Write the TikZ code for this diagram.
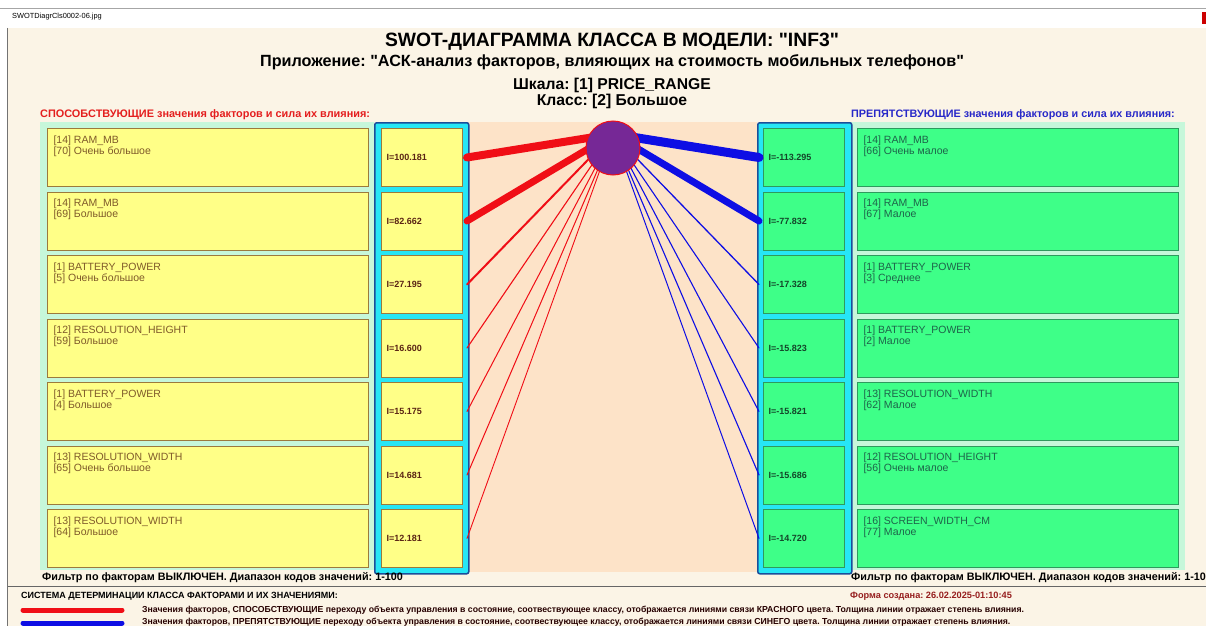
\documentclass[tikz,border=0pt]{standalone}
\usepackage{fontspec}
\setmainfont{Liberation Sans}[Ligatures=TeXOff]
\usetikzlibrary{positioning}
\frenchspacing

\definecolor{beige}{RGB}{251,244,230}
\definecolor{mint}{RGB}{198,247,218}
\definecolor{peach}{RGB}{253,227,200}
\definecolor{colfill}{RGB}{38,230,245}
\definecolor{coledge}{RGB}{26,78,154}
\definecolor{ybox}{RGB}{255,255,135}
\definecolor{yedge}{RGB}{156,122,60}
\definecolor{gbox}{RGB}{62,255,136}
\definecolor{gedge}{RGB}{46,154,94}
\definecolor{txtL}{RGB}{127,90,42}
\definecolor{txtR}{RGB}{30,100,74}
\definecolor{valL}{RGB}{90,36,20}
\definecolor{valR}{RGB}{20,70,42}
\definecolor{plus}{RGB}{240,14,22}
\definecolor{minus}{RGB}{14,14,228}
\definecolor{purp}{RGB}{118,40,150}
\definecolor{hdrred}{RGB}{228,30,30}
\definecolor{hdrblue}{RGB}{40,40,200}
\definecolor{datered}{RGB}{150,30,30}

% factor text, two lines at the top of the box
\newcommand\ftext[2]{\parbox[t][44pt][t]{309pt}{#1\par#2}}

\begin{document}
\begin{tikzpicture}[x=1pt, y=-1pt,
  factorL/.style={rectangle, draw=yedge, fill=ybox, line width=1pt, anchor=north west, inner xsep=6pt, inner ysep=7pt, minimum width=321pt, minimum height=58pt, text=txtL, font=\fontsize{10.5}{11}\selectfont},
  factorR/.style={factorL, draw=gedge, fill=gbox, text=txtR},
  valueL/.style={rectangle, draw=yedge, fill=ybox, line width=1pt, anchor=north west, inner xsep=5pt, inner ysep=0pt, text width=71pt, align=left, minimum height=58pt, text=valL, font=\fontsize{9}{10}\selectfont\bfseries},
  valueR/.style={valueL, draw=gedge, fill=gbox, text=valR},
  column/.style={rectangle, draw=coledge, fill=colfill, line width=1.5pt, rounded corners=2pt, anchor=north west, inner sep=0pt, minimum width=94pt, minimum height=451pt},
  plusln/.style={draw=plus, line cap=round},
  minusln/.style={draw=minus, line cap=round},
  filtertxt/.style={anchor=west, inner sep=0pt, font=\fontsize{10.8}{12}\selectfont\bfseries},
  legtxt/.style={anchor=west, inner sep=0pt, text=black!85!red, font=\fontsize{8.7}{10}\selectfont\bfseries}
]
% backgrounds
\useasboundingbox (0,0) rectangle (1206,626);
\fill[white] (0,0) rectangle (1206,626);
\fill[beige] (8,28) rectangle (1206,626);
\draw[black!35] (0,8.5) -- (1206,8.5);
\draw[black!55] (7.5,28) -- (7.5,626);
\fill[red!80!black] (1202,12) rectangle (1206,24);
\node[anchor=west, inner sep=0pt, font=\fontsize{7.4}{8}\selectfont] (fname) at (12,17) {SWOTDiagrCls0002-06.jpg};

% titles
\node[font=\fontsize{19.3}{22}\selectfont\bfseries, inner sep=0pt] (title) at (612,42) {SWOT-ДИАГРАММА КЛАССА В МОДЕЛИ: "INF3"};
\node[font=\fontsize{16.2}{18}\selectfont\bfseries, inner sep=0pt] (subtitle) at (612,62) {Приложение: "АСК-анализ факторов, влияющих на стоимость мобильных телефонов"};
\node[font=\fontsize{15.7}{17}\selectfont\bfseries, inner sep=0pt] (scale) at (612,85) {Шкала: [1] PRICE\_RANGE};
\node[font=\fontsize{15.7}{17}\selectfont\bfseries, inner sep=0pt] (klass) at (612,101) {Класс: [2] Большое};

\node[anchor=west, inner sep=0pt, text=hdrred, font=\fontsize{10.9}{12}\selectfont\bfseries] (hdrPlus) at (40,115) {СПОСОБСТВУЮЩИЕ значения факторов и сила их влияния:};
\node[anchor=west, inner sep=0pt, text=hdrblue, font=\fontsize{10.8}{12}\selectfont\bfseries] (hdrMinus) at (851,115) {ПРЕПЯТСТВУЮЩИЕ значения факторов и сила их влияния:};

% panels
\fill[mint] (40,122) rectangle (374,570);
\fill[mint] (850,122) rectangle (1185,570);
\fill[peach] (468,122) rectangle (757,572);
\node[column] (colL) at (374,122) {};
\node[column] (colR) at (757,122) {};

% left side
\node[factorL] (fL1) at (47,128) {\ftext{[14] RAM\_MB}{[70] Очень большое}};
\node[factorL] (fL2) at (47,191.5) {\ftext{[14] RAM\_MB}{[69] Большое}};
\node[factorL] (fL3) at (47,255) {\ftext{[1] BATTERY\_POWER}{[5] Очень большое}};
\node[factorL] (fL4) at (47,318.5) {\ftext{[12] RESOLUTION\_HEIGHT}{[59] Большое}};
\node[factorL] (fL5) at (47,382) {\ftext{[1] BATTERY\_POWER}{[4] Большое}};
\node[factorL] (fL6) at (47,445.5) {\ftext{[13] RESOLUTION\_WIDTH}{[65] Очень большое}};
\node[factorL] (fL7) at (47,509) {\ftext{[13] RESOLUTION\_WIDTH}{[64] Большое}};

\node[valueL] (iL1) at (381,128) {I=100.181};
\node[valueL] (iL2) at (381,191.5) {I=82.662};
\node[valueL] (iL3) at (381,255) {I=27.195};
\node[valueL] (iL4) at (381,318.5) {I=16.600};
\node[valueL] (iL5) at (381,382) {I=15.175};
\node[valueL] (iL6) at (381,445.5) {I=14.681};
\node[valueL] (iL7) at (381,509) {I=12.181};

% right side
\node[valueR] (iR1) at (763,128) {I=-113.295};
\node[valueR] (iR2) at (763,191.5) {I=-77.832};
\node[valueR] (iR3) at (763,255) {I=-17.328};
\node[valueR] (iR4) at (763,318.5) {I=-15.823};
\node[valueR] (iR5) at (763,382) {I=-15.821};
\node[valueR] (iR6) at (763,445.5) {I=-15.686};
\node[valueR] (iR7) at (763,509) {I=-14.720};

\node[factorR] (fR1) at (857,128) {\ftext{[14] RAM\_MB}{[66] Очень малое}};
\node[factorR] (fR2) at (857,191.5) {\ftext{[14] RAM\_MB}{[67] Малое}};
\node[factorR] (fR3) at (857,255) {\ftext{[1] BATTERY\_POWER}{[3] Среднее}};
\node[factorR] (fR4) at (857,318.5) {\ftext{[1] BATTERY\_POWER}{[2] Малое}};
\node[factorR] (fR5) at (857,382) {\ftext{[13] RESOLUTION\_WIDTH}{[62] Малое}};
\node[factorR] (fR6) at (857,445.5) {\ftext{[12] RESOLUTION\_HEIGHT}{[56] Очень малое}};
\node[factorR] (fR7) at (857,509) {\ftext{[16] SCREEN\_WIDTH\_CM}{[77] Малое}};

% links to the class
\coordinate (hub) at (613,134);
\draw[plusln, line width=8pt] ([xshift=4pt]iL1.east) -- (hub);
\draw[plusln, line width=7pt] ([xshift=4pt]iL2.east) -- (hub);
\draw[plusln, line width=2pt] ([xshift=4pt]iL3.east) -- (hub);
\draw[plusln, line width=1.1pt] ([xshift=4pt]iL4.east) -- (hub);
\draw[plusln, line width=1pt] ([xshift=4pt]iL5.east) -- (hub);
\draw[plusln, line width=1pt] ([xshift=4pt]iL6.east) -- (hub);
\draw[plusln, line width=0.9pt] ([xshift=4pt]iL7.east) -- (hub);
\draw[minusln, line width=9pt] ([xshift=-4pt]iR1.west) -- (hub);
\draw[minusln, line width=7pt] ([xshift=-4pt]iR2.west) -- (hub);
\draw[minusln, line width=1.3pt] ([xshift=-4pt]iR3.west) -- (hub);
\draw[minusln, line width=1.1pt] ([xshift=-4pt]iR4.west) -- (hub);
\draw[minusln, line width=1.1pt] ([xshift=-4pt]iR5.west) -- (hub);
\draw[minusln, line width=1.1pt] ([xshift=-4pt]iR6.west) -- (hub);
\draw[minusln, line width=1pt] ([xshift=-4pt]iR7.west) -- (hub);
\node[circle, draw=plus, fill=purp, line width=1pt, minimum size=54pt, inner sep=0pt] (cls) at (613,148) {};

% footer
\node[filtertxt] (filterL) at (42,578) {Фильтр по факторам ВЫКЛЮЧЕН. Диапазон кодов значений: 1-100};
\node[filtertxt] (filterR) at (851,578) {Фильтр по факторам ВЫКЛЮЧЕН. Диапазон кодов значений: 1-100};
\draw[black!60] (8,586.5) -- (1206,586.5);
\node[legtxt, text=black, font=\fontsize{9}{10}\selectfont\bfseries] (sysHdr) at (21,596) {СИСТЕМА ДЕТЕРМИНАЦИИ КЛАССА ФАКТОРАМИ И ИХ ЗНАЧЕНИЯМИ:};
\node[legtxt, text=datered, font=\fontsize{9.2}{10}\selectfont\bfseries] (formDate) at (850,596) {Форма создана: 26.02.2025-01:10:45};
\coordinate (legR1) at (23,610);
\coordinate (legR2) at (122,610);
\coordinate (legB1) at (23,623);
\coordinate (legB2) at (122,623);
\draw[plusln, line width=5pt] (legR1) -- (legR2);
\draw[minusln, line width=5pt] (legB1) -- (legB2);
\node[legtxt] (legTxtR) at (142,610) {Значения факторов, СПОСОБСТВУЮЩИЕ переходу объекта управления в состояние, соотвествующее классу, отображается линиями связи КРАСНОГО цвета. Толщина линии отражает степень влияния.};
\node[legtxt] (legTxtB) at (142,622.5) {Значения факторов, ПРЕПЯТСТВУЮЩИЕ переходу объекта управления в состояние, соотвествующее классу, отображается линиями связи СИНЕГО цвета. Толщина линии отражает степень влияния.};
\end{tikzpicture}
\end{document}
